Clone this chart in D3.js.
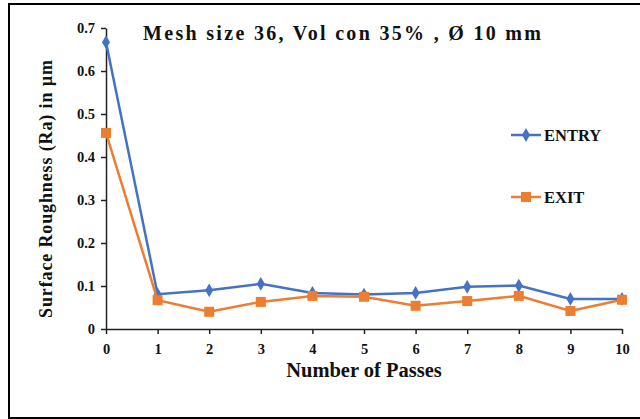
<!DOCTYPE html>
<html><head><meta charset="utf-8">
<script src="https://cdn.jsdelivr.net/npm/d3@7"></script>
<style>body{margin:0;background:#fff}svg{display:block}</style>
</head><body>
<svg id="c" width="640" height="419"></svg>
<script>
const passes = [0,1,2,3,4,5,6,7,8,9,10];
const entry = [0.667,0.081,0.09,0.105,0.084,0.08,0.084,0.098,0.101,0.07,0.07];
const exitV = [0.456,0.067,0.04,0.063,0.077,0.075,0.054,0.065,0.077,0.042,0.068];
const yTicks = [0,0.1,0.2,0.3,0.4,0.5,0.6,0.7];
const yTickLabels = ["0","0.1","0.2","0.3","0.4","0.5","0.6","0.7"];
const title = "Mesh size 36, Vol con 35% , Ø 10 mm";
const xTitle = "Number of Passes";
const yTitle = "Surface Roughness (Ra) in µm";
const seriesNames = ["ENTRY","EXIT"];
const colors = ["#4472C4","#ED7D31"];

const svg = d3.select("#c");
const font = "Liberation Serif, Times New Roman, serif";
svg.append("rect").attr("x",9).attr("y",4).attr("width",640).attr("height",414)
  .attr("fill","#fff").attr("stroke","#000").attr("stroke-width",2);

const x = d3.scaleLinear().domain([0,10]).range([106,622]);
const y = d3.scaleLinear().domain([0,0.7]).range([329,28]);

const xAxis = svg.append("g").attr("transform","translate(0,329)")
  .call(d3.axisBottom(x).tickValues(passes).tickFormat(d3.format("d")).tickSizeInner(5).tickSizeOuter(0));
const yAxis = svg.append("g").attr("transform","translate(106,0)")
  .call(d3.axisLeft(y).tickValues(yTicks).tickFormat((d,i)=>yTickLabels[i]).tickSizeInner(5).tickSizeOuter(0));
[xAxis,yAxis].forEach(g=>{
  g.select(".domain").attr("stroke","#222").attr("stroke-width",1.5);
  g.selectAll(".tick line").attr("stroke","#222").attr("stroke-width",1.5);
  g.selectAll("text").style("font-family",font).style("font-weight","bold").style("font-size","14.5px").attr("fill","#111");
});
xAxis.selectAll("text").attr("dy","1.15em");
yAxis.selectAll("text").attr("x",-11);

const data = [entry, exitV];
data.forEach((vals,si)=>{
  const line = d3.line().x((d,i)=>x(passes[i])).y(d=>y(d));
  svg.append("path").datum(vals).attr("d",line).attr("fill","none")
    .attr("stroke",colors[si]).attr("stroke-width",2.5);
  const sym = si===0 ? d3.symbol().type(d3.symbolDiamond).size(55) : d3.symbol().type(d3.symbolSquare).size(100);
  svg.append("g").selectAll("path").data(vals).join("path")
    .attr("d",sym).attr("fill",colors[si])
    .attr("transform",(d,i)=>`translate(${x(passes[i])},${y(d)})`);
});

// legend
const legY = [135,197];
seriesNames.forEach((n,i)=>{
  const g = svg.append("g");
  g.append("line").attr("x1",511).attr("x2",541).attr("y1",legY[i]).attr("y2",legY[i])
    .attr("stroke",colors[i]).attr("stroke-width",2.5);
  const sym = i===0 ? d3.symbol().type(d3.symbolDiamond).size(55) : d3.symbol().type(d3.symbolSquare).size(100);
  g.append("path").attr("d",sym).attr("fill",colors[i]).attr("transform",`translate(526,${legY[i]})`);
  g.append("text").attr("x",544).attr("y",legY[i]+6).text(n)
    .style("font-family",font).style("font-weight","bold").style("font-size","16.5px").attr("fill","#111");
});

svg.append("text").attr("x",143).attr("y",40).text(title)
  .attr("textLength",398).attr("lengthAdjust","spacing")
  .style("font-family",font).style("font-weight","bold").style("font-size","20px").attr("fill","#111");
svg.append("text").attr("x",364).attr("y",377).attr("text-anchor","middle").text(xTitle)
  .style("font-family",font).style("font-weight","bold").style("font-size","20.5px").attr("fill","#111");
svg.append("text").attr("transform","translate(52,189) rotate(-90)").attr("text-anchor","middle").text(yTitle)
  .attr("textLength",258).attr("lengthAdjust","spacing")
  .style("font-family",font).style("font-weight","bold").style("font-size","18px").attr("fill","#111");
</script>
</body></html>
